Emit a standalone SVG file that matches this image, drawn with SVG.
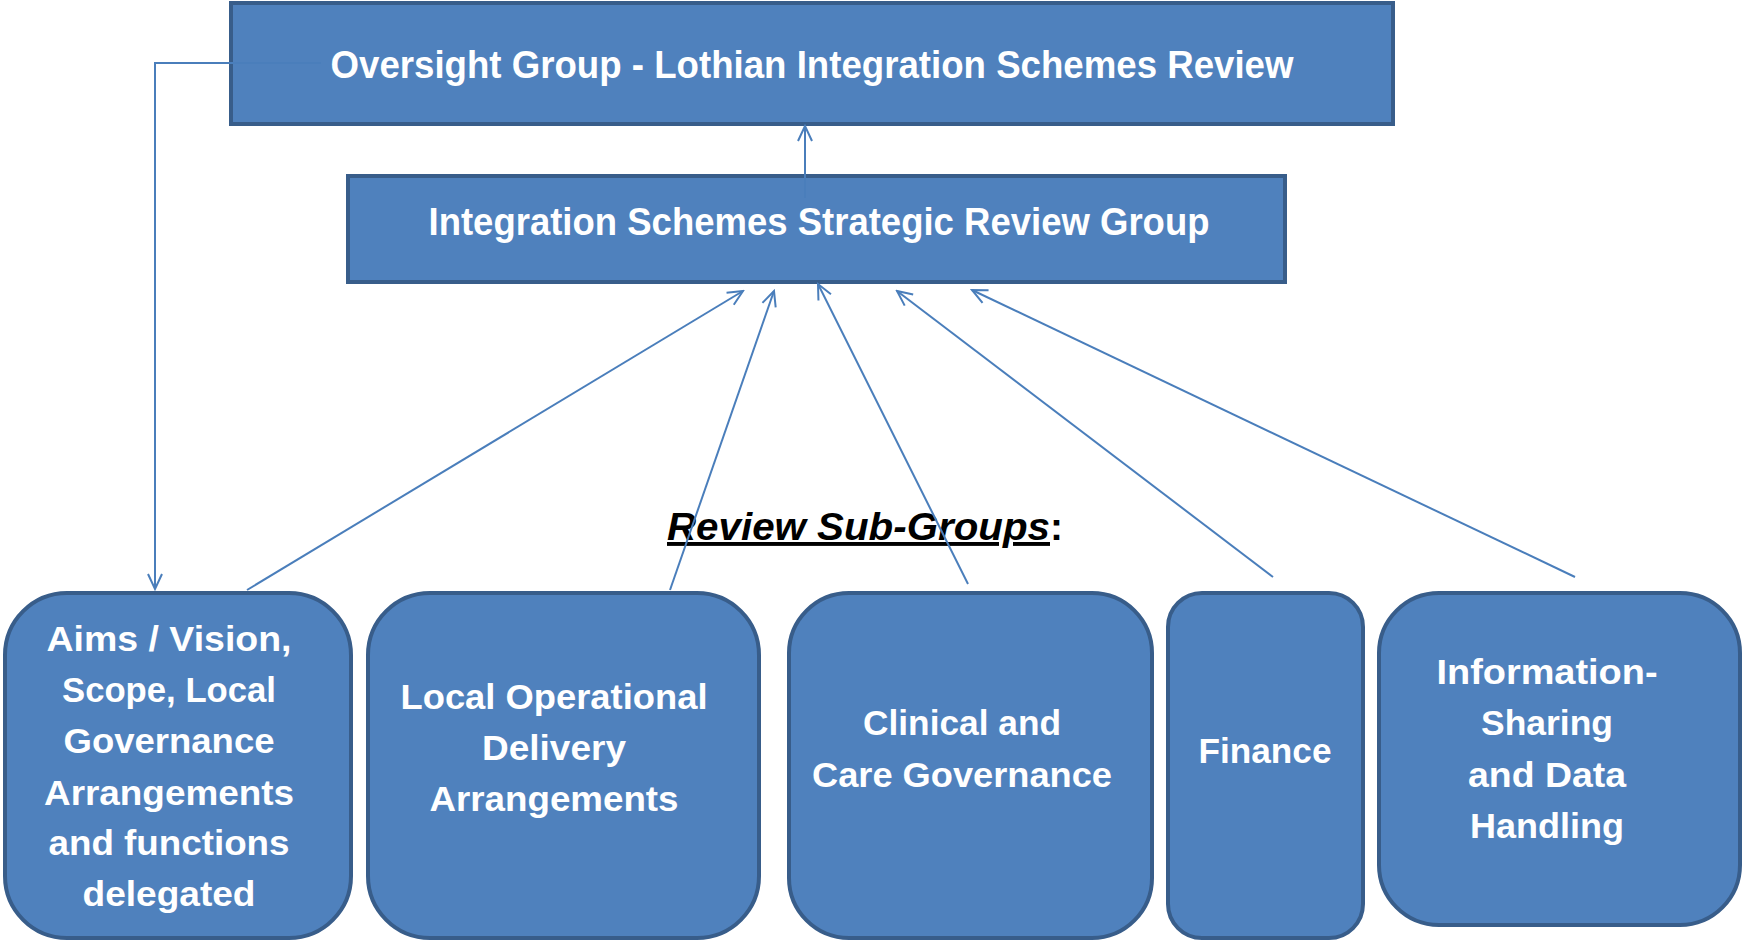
<svg xmlns="http://www.w3.org/2000/svg" width="1744" height="942" viewBox="0 0 1744 942">
<style>
.box{fill:#4f81bd;stroke:#385d8a;stroke-width:4}
.t{font-family:"Liberation Sans",Arial,sans-serif;font-weight:bold;fill:#ffffff;text-anchor:middle}
.tb{font-size:39px}
.ts{font-size:35px}
.con{fill:none;stroke:#4a7ebb;stroke-width:2}
.title{font-family:"Liberation Sans",Arial,sans-serif;font-weight:bold;font-size:39px;fill:#000000}
</style>
<defs>
<marker id="arr" markerUnits="userSpaceOnUse" markerWidth="18" markerHeight="18" viewBox="0 0 18 18" refX="16" refY="9" orient="auto">
<path d="M1,2 L16,9 L1,16" fill="none" stroke="#4a7ebb" stroke-width="2"/>
</marker>
</defs>
<rect width="1744" height="942" fill="#ffffff"/>
<g id="oversight">
<rect class="box" x="231" y="3" width="1162" height="121"/>
<text class="t tb" x="812" y="78" textLength="963" lengthAdjust="spacingAndGlyphs">Oversight Group - Lothian Integration Schemes Review</text>
</g>
<g id="strategic">
<rect class="box" x="348" y="176" width="937" height="106"/>
<text class="t tb" x="819" y="235" textLength="781" lengthAdjust="spacingAndGlyphs">Integration Schemes Strategic Review Group</text>
</g>
<g id="subgroups-label">
<text class="title" x="667" y="540"><tspan font-style="italic" text-decoration="underline" textLength="383" lengthAdjust="spacingAndGlyphs">Review Sub-Groups</tspan><tspan>:</tspan></text>
</g>
<g id="aims">
<rect class="box" x="5" y="593" width="346" height="345" rx="62" ry="62"/>
<text class="t ts" x="169" y="651" textLength="245" lengthAdjust="spacingAndGlyphs">Aims / Vision,</text>
<text class="t ts" x="169" y="702" textLength="214" lengthAdjust="spacingAndGlyphs">Scope, Local</text>
<text class="t ts" x="169" y="753" textLength="211" lengthAdjust="spacingAndGlyphs">Governance</text>
<text class="t ts" x="169" y="805" textLength="250" lengthAdjust="spacingAndGlyphs">Arrangements</text>
<text class="t ts" x="169" y="855" textLength="241" lengthAdjust="spacingAndGlyphs">and functions</text>
<text class="t ts" x="169" y="906" textLength="173" lengthAdjust="spacingAndGlyphs">delegated</text>
</g>
<g id="operational">
<rect class="box" x="368" y="593" width="391" height="345" rx="62" ry="62"/>
<text class="t ts" x="554" y="709" textLength="307" lengthAdjust="spacingAndGlyphs">Local Operational</text>
<text class="t ts" x="554" y="760" textLength="144" lengthAdjust="spacingAndGlyphs">Delivery</text>
<text class="t ts" x="554" y="811" textLength="249" lengthAdjust="spacingAndGlyphs">Arrangements</text>
</g>
<g id="clinical">
<rect class="box" x="789" y="593" width="363" height="345" rx="60" ry="60"/>
<text class="t ts" x="962" y="735" textLength="198" lengthAdjust="spacingAndGlyphs">Clinical and</text>
<text class="t ts" x="962" y="787" textLength="300" lengthAdjust="spacingAndGlyphs">Care Governance</text>
</g>
<g id="finance">
<rect class="box" x="1168" y="593" width="195" height="345" rx="34" ry="34"/>
<text class="t ts" x="1265" y="763" textLength="133" lengthAdjust="spacingAndGlyphs">Finance</text>
</g>
<g id="information">
<rect class="box" x="1379" y="593" width="361" height="332" rx="60" ry="60"/>
<text class="t ts" x="1547" y="684" textLength="221" lengthAdjust="spacingAndGlyphs">Information-</text>
<text class="t ts" x="1547" y="735" textLength="132" lengthAdjust="spacingAndGlyphs">Sharing</text>
<text class="t ts" x="1547" y="787" textLength="158" lengthAdjust="spacingAndGlyphs">and Data</text>
<text class="t ts" x="1547" y="838" textLength="154" lengthAdjust="spacingAndGlyphs">Handling</text>
</g>
<g id="connectors">
<line class="con" x1="805" y1="198" x2="805" y2="126" marker-end="url(#arr)"/>
<polyline class="con" points="321,63 155,63 155,589" marker-end="url(#arr)"/>
<line class="con" x1="247" y1="590" x2="743" y2="291" marker-end="url(#arr)"/>
<line class="con" x1="670" y1="590" x2="774" y2="291" marker-end="url(#arr)"/>
<line class="con" x1="968" y1="584" x2="818" y2="284" marker-end="url(#arr)"/>
<line class="con" x1="1273" y1="577" x2="897" y2="291" marker-end="url(#arr)"/>
<line class="con" x1="1575" y1="577" x2="972" y2="290" marker-end="url(#arr)"/>
</g>
</svg>
